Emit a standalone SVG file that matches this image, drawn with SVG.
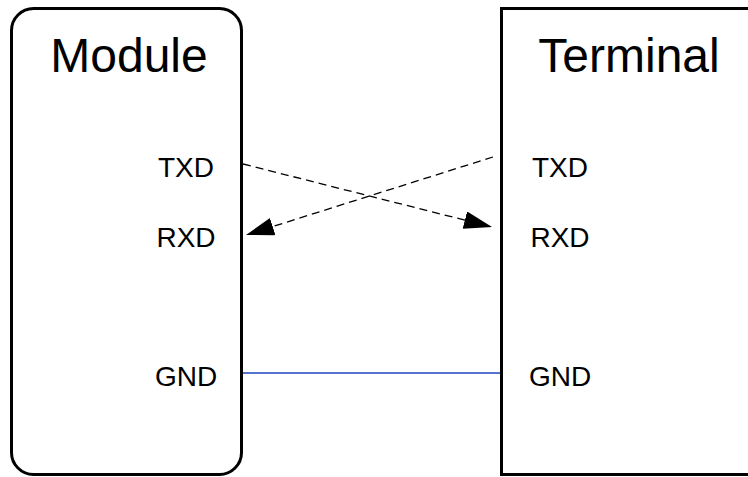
<svg xmlns="http://www.w3.org/2000/svg" width="748" height="477" viewBox="0 0 748 477">
<style>
.box{fill:#fff;stroke:#000;stroke-width:3}
.t{font-family:"Liberation Sans",Arial,sans-serif;fill:#000}
.title{font-size:48px;text-anchor:middle}
.lbl{font-size:28px;text-anchor:middle}
.dash{fill:none;stroke:#000;stroke-width:1.3;stroke-dasharray:8,5}
</style>
<defs>
<marker id="arr" markerUnits="userSpaceOnUse" markerWidth="30" markerHeight="20" refX="28" refY="9" orient="auto">
<path d="M0,0 L28,9 L0,18 Z" fill="#000"/>
</marker>
</defs>
<g id="module">
<rect class="box" x="11.5" y="8.5" width="230" height="466" rx="22"/>
<text class="t title" x="129" y="72">Module</text>
<text class="t lbl" x="186" y="177">TXD</text>
<text class="t lbl" x="186" y="247">RXD</text>
<text class="t lbl" x="186" y="386">GND</text>
</g>
<g id="terminal">
<rect class="box" x="501.5" y="8.5" width="260" height="466"/>
<text class="t title" x="629" y="72">Terminal</text>
<text class="t lbl" x="560" y="177">TXD</text>
<text class="t lbl" x="560" y="247">RXD</text>
<text class="t lbl" x="560" y="386">GND</text>
</g>
<g id="connectors">
<line class="dash" x1="243" y1="164" x2="492" y2="227" marker-end="url(#arr)"/>
<line class="dash" x1="493" y1="157" x2="246" y2="235" marker-end="url(#arr)"/>
<line x1="243" y1="373" x2="500" y2="373" stroke="#1f45c0" stroke-width="1.4"/>
</g>
</svg>
